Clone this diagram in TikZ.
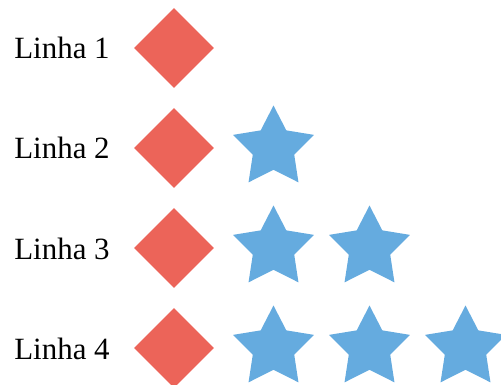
\documentclass[tikz,border=0pt]{standalone}
\usepackage{fontspec}
\setmainfont{Liberation Serif}
\usetikzlibrary{shapes.geometric}
\definecolor{gemred}{HTML}{EC6459}
\definecolor{starblue}{HTML}{65ABDF}
\tikzset{
  gem/.style={diamond, fill=gemred, minimum size=1.6cm, inner sep=0pt},
  bluestar/.style={star, star points=5, star point ratio=1.95, fill=starblue, minimum size=1.7cm, inner sep=0pt},
  rowlabel/.style={anchor=base west, inner sep=0pt, font=\fontsize{17.6}{20}\selectfont}
}
\begin{document}
\begin{tikzpicture}[x=0.02cm, y=-0.02cm]
\useasboundingbox (0,0) rectangle (501,385);

\node[rowlabel] (l1) at (14,59) {Linha 1};
\node[gem] (d1) at (174,48) {};

\node[rowlabel] (l2) at (14,159) {Linha 2};
\node[gem] (d2) at (174,148) {};
\node[bluestar] (s21) at (273.5,148) {};

\node[rowlabel] (l3) at (14,259) {Linha 3};
\node[gem] (d3) at (174,248) {};
\node[bluestar] (s31) at (273.5,248) {};
\node[bluestar] (s32) at (369.5,248) {};

\node[rowlabel] (l4) at (14,359) {Linha 4};
\node[gem] (d4) at (174,348) {};
\node[bluestar] (s41) at (273.5,348) {};
\node[bluestar] (s42) at (369.5,348) {};
\node[bluestar] (s43) at (465.5,348) {};
\end{tikzpicture}
\end{document}
